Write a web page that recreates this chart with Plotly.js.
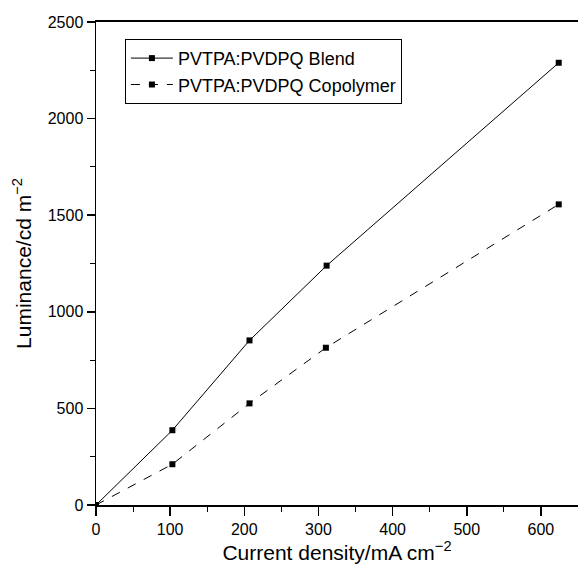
<!DOCTYPE html>
<html>
<head>
<meta charset="utf-8">
<script src="https://cdn.plot.ly/plotly-3.0.1.min.js"></script>
<style>html,body{margin:0;padding:0;background:#fff;}</style>
</head>
<body>
<div id="chart" style="width:578px;height:569px;"></div>
<script>
const seriesNames = ["PVTPA:PVDPQ Blend", "PVTPA:PVDPQ Copolymer"];
const blendX = [0, 103, 207, 311, 624];
const blendY = [0, 387, 852, 1239, 2289];
const copolyX = [0, 103, 207, 310, 624];
const copolyY = [0, 211, 526, 814, 1556];
const xTicks = [0, 100, 200, 300, 400, 500, 600];
const yTicks = [0, 500, 1000, 1500, 2000, 2500];

const font = "Liberation Sans, Arial, Helvetica, sans-serif";

const traces = [
  {x: blendX, y: blendY, name: seriesNames[0], mode: "lines+markers",
   line: {color: "#000", width: 1, dash: "solid"},
   marker: {symbol: "square", size: 6, color: "#000"}},
  {x: copolyX, y: copolyY, name: seriesNames[1], mode: "lines+markers",
   line: {color: "#000", width: 1, dash: "dash"},
   marker: {symbol: "square", size: 6, color: "#000"}}
];

const layout = {
  width: 578, height: 569,
  margin: {l: 96, r: 0, t: 22, b: 64},
  paper_bgcolor: "#fff", plot_bgcolor: "#fff",
  font: {family: font, color: "#000", size: 16},
  showlegend: true,
  legend: {x: 0.06, y: 0.965, xanchor: "left", yanchor: "top",
    bgcolor: "#fff", bordercolor: "#000", borderwidth: 1,
    itemwidth: 42,
    font: {family: font, size: 18, color: "#000"}, tracegroupgap: 0},
  xaxis: {range: [0, 650], tickvals: xTicks, ticktext: xTicks.map(String),
    showgrid: false, zeroline: false, showline: true, linecolor: "#000", linewidth: 2,
    mirror: true, ticks: "outside", ticklen: 9, tickwidth: 1.5, tickcolor: "#000",
    minor: {dtick: 50, tick0: 0, ticks: "outside", ticklen: 5, tickwidth: 1, tickcolor: "#000", showgrid: false},
    tickfont: {size: 16, family: font},
    title: {text: "Current density/mA cm<sup>−2</sup>", font: {size: 21, family: font}, standoff: 6}},
  yaxis: {range: [0, 2500], tickvals: yTicks, ticktext: yTicks.map(String),
    showgrid: false, zeroline: false, showline: true, linecolor: "#000", linewidth: 1.5,
    ticks: "outside", ticklen: 8, tickwidth: 1.5, tickcolor: "#000",
    minor: {dtick: 250, tick0: 0, ticks: "outside", ticklen: 5, tickwidth: 1, tickcolor: "#000", showgrid: false},
    tickfont: {size: 16, family: font},
    title: {text: "Luminance/cd m<sup>−2</sup>", font: {size: 21, family: font}, standoff: 10}}
};

Plotly.newPlot("chart", traces, layout, {displayModeBar: false, staticPlot: true});
</script>
</body>
</html>
